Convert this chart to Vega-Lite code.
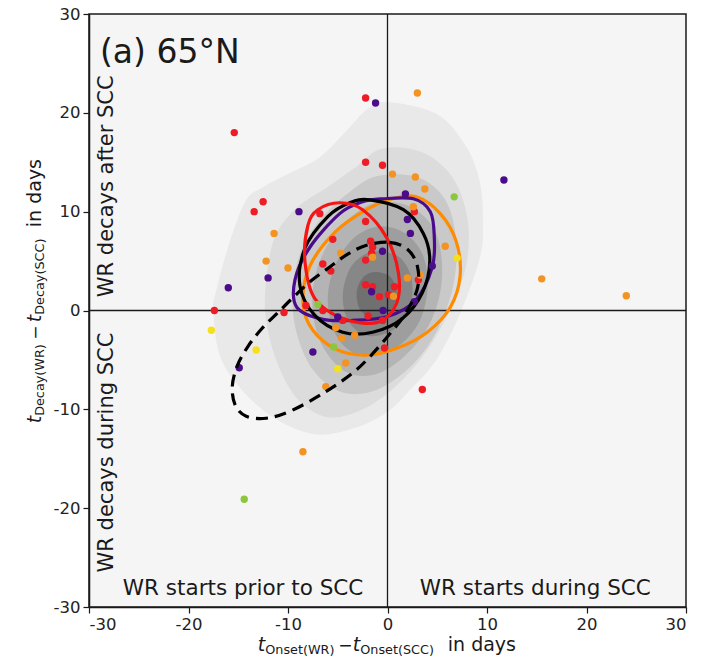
{
"$schema":"https://vega.github.io/schema/vega-lite/v6.json",
"width":597,"height":593,
"autosize":{"type":"none"},
"padding":{"left":89,"top":14,"right":18,"bottom":54},
"background":"white",
"config":{"view":{"stroke":"#1a1a1a","strokeWidth":1.5,"fill":"#f5f5f5"},"font":"DejaVu Sans",
 "axis":{"grid":false,"domainColor":"#1a1a1a","domainWidth":1.5,"tickColor":"#1a1a1a","tickSize":6,"tickWidth":1.2,"labelFont":"DejaVu Sans","labelFontSize":16.5,"labelColor":"#222222"}},
"datasets":{
 "contours":[
  {"level":1,"i":0,"x":-0.1,"y":21.1},{"level":1,"i":1,"x":4.9,"y":19.9},{"level":1,"i":2,"x":7.9,"y":16.6},{"level":1,"i":3,"x":9.3,"y":12.9},{"level":1,"i":4,"x":9.6,"y":8.8},{"level":1,"i":5,"x":9.3,"y":5.4},{"level":1,"i":6,"x":7.3,"y":-0.3},{"level":1,"i":7,"x":4.9,"y":-5.0},{"level":1,"i":8,"x":2.2,"y":-8.1},{"level":1,"i":9,"x":0.2,"y":-10.1},{"level":1,"i":10,"x":-3.0,"y":-11.8},{"level":1,"i":11,"x":-7.5,"y":-12.5},{"level":1,"i":12,"x":-12.5,"y":-10.1},{"level":1,"i":13,"x":-16.5,"y":-5.4},{"level":1,"i":14,"x":-17.5,"y":-0.3},{"level":1,"i":15,"x":-17.2,"y":2.1},{"level":1,"i":16,"x":-15.8,"y":7.1},{"level":1,"i":17,"x":-14.2,"y":11.2},{"level":1,"i":18,"x":-12.5,"y":12.5},{"level":1,"i":19,"x":-9.8,"y":13.9},{"level":1,"i":20,"x":-6.8,"y":15.5},{"level":1,"i":21,"x":-4.1,"y":18.2},{"level":1,"i":22,"x":-2.1,"y":20.3},
  {"level":2,"i":0,"x":-0.5,"y":16.4},{"level":2,"i":1,"x":3.5,"y":16.0},{"level":2,"i":2,"x":6.5,"y":13.5},{"level":2,"i":3,"x":8.0,"y":9.5},{"level":2,"i":4,"x":8.0,"y":5.0},{"level":2,"i":5,"x":6.5,"y":0.5},{"level":2,"i":6,"x":4.0,"y":-4.0},{"level":2,"i":7,"x":1.0,"y":-7.5},{"level":2,"i":8,"x":-2.5,"y":-10.0},{"level":2,"i":9,"x":-6.0,"y":-10.8},{"level":2,"i":10,"x":-9.0,"y":-9.0},{"level":2,"i":11,"x":-11.0,"y":-5.5},{"level":2,"i":12,"x":-12.2,"y":-1.0},{"level":2,"i":13,"x":-12.2,"y":3.0},{"level":2,"i":14,"x":-11.3,"y":7.5},{"level":2,"i":15,"x":-9.0,"y":10.5},{"level":2,"i":16,"x":-6.0,"y":12.5},{"level":2,"i":17,"x":-3.2,"y":14.5},
  {"level":3,"i":0,"x":-1.0,"y":13.6},{"level":3,"i":1,"x":3.0,"y":13.5},{"level":3,"i":2,"x":5.8,"y":11.2},{"level":3,"i":3,"x":6.9,"y":7.1},{"level":3,"i":4,"x":6.6,"y":2.5},{"level":3,"i":5,"x":5.0,"y":-2.0},{"level":3,"i":6,"x":2.5,"y":-5.5},{"level":3,"i":7,"x":-1.0,"y":-8.0},{"level":3,"i":8,"x":-4.5,"y":-8.3},{"level":3,"i":9,"x":-7.5,"y":-6.0},{"level":3,"i":10,"x":-9.2,"y":-2.0},{"level":3,"i":11,"x":-9.5,"y":2.0},{"level":3,"i":12,"x":-8.7,"y":6.0},{"level":3,"i":13,"x":-6.5,"y":9.5},{"level":3,"i":14,"x":-3.8,"y":12.0},
  {"level":4,"i":0,"x":-0.5,"y":11.0},{"level":4,"i":1,"x":2.5,"y":10.4},{"level":4,"i":2,"x":4.8,"y":8.0},{"level":4,"i":3,"x":5.5,"y":4.0},{"level":4,"i":4,"x":4.8,"y":0.0},{"level":4,"i":5,"x":2.8,"y":-3.5},{"level":4,"i":6,"x":-0.5,"y":-6.2},{"level":4,"i":7,"x":-3.8,"y":-6.4},{"level":4,"i":8,"x":-6.3,"y":-4.0},{"level":4,"i":9,"x":-7.5,"y":-0.3},{"level":4,"i":10,"x":-7.2,"y":3.8},{"level":4,"i":11,"x":-5.5,"y":7.5},{"level":4,"i":12,"x":-3.0,"y":10.0},
  {"level":5,"i":0,"x":-0.8,"y":8.5},{"level":5,"i":1,"x":1.8,"y":7.8},{"level":5,"i":2,"x":3.6,"y":5.5},{"level":5,"i":3,"x":4.0,"y":2.0},{"level":5,"i":4,"x":3.0,"y":-1.5},{"level":5,"i":5,"x":0.5,"y":-4.0},{"level":5,"i":6,"x":-2.6,"y":-4.6},{"level":5,"i":7,"x":-5.0,"y":-2.8},{"level":5,"i":8,"x":-6.0,"y":0.8},{"level":5,"i":9,"x":-5.3,"y":4.5},{"level":5,"i":10,"x":-3.3,"y":7.4},
  {"level":6,"i":0,"x":-1.0,"y":6.0},{"level":6,"i":1,"x":1.2,"y":5.4},{"level":6,"i":2,"x":2.4,"y":3.3},{"level":6,"i":3,"x":2.3,"y":0.5},{"level":6,"i":4,"x":0.8,"y":-1.8},{"level":6,"i":5,"x":-1.8,"y":-2.6},{"level":6,"i":6,"x":-3.8,"y":-1.3},{"level":6,"i":7,"x":-4.5,"y":1.3},{"level":6,"i":8,"x":-3.9,"y":4.0},{"level":6,"i":9,"x":-2.6,"y":5.5},
  {"level":7,"i":0,"x":-1.3,"y":3.9},{"level":7,"i":1,"x":0.3,"y":3.4},{"level":7,"i":2,"x":0.9,"y":1.8},{"level":7,"i":3,"x":0.3,"y":0.0},{"level":7,"i":4,"x":-1.3,"y":-0.8},{"level":7,"i":5,"x":-2.7,"y":0.0},{"level":7,"i":6,"x":-3.1,"y":1.8},{"level":7,"i":7,"x":-2.5,"y":3.3}
 ],
 "ellipses":[
  {"e":"orange","i":0,"x":-2.1,"y":10.2},{"e":"orange","i":1,"x":0.5,"y":11.3},{"e":"orange","i":2,"x":2.9,"y":11.5},{"e":"orange","i":3,"x":5.3,"y":9.8},{"e":"orange","i":4,"x":6.9,"y":7.0},{"e":"orange","i":5,"x":7.3,"y":3.5},{"e":"orange","i":6,"x":6.3,"y":0.3},{"e":"orange","i":7,"x":4.0,"y":-2.2},{"e":"orange","i":8,"x":1.0,"y":-3.8},{"e":"orange","i":9,"x":-2.0,"y":-4.5},{"e":"orange","i":10,"x":-5.0,"y":-4.0},{"e":"orange","i":11,"x":-7.5,"y":-2.0},{"e":"orange","i":12,"x":-8.5,"y":0.8},{"e":"orange","i":13,"x":-7.8,"y":4.5},{"e":"orange","i":14,"x":-5.2,"y":8.0},
  {"e":"purple","i":0,"x":-0.5,"y":11.3},{"e":"purple","i":1,"x":2.6,"y":11.3},{"e":"purple","i":2,"x":4.3,"y":10.0},{"e":"purple","i":3,"x":4.7,"y":7.5},{"e":"purple","i":4,"x":4.5,"y":4.4},{"e":"purple","i":5,"x":2.8,"y":1.0},{"e":"purple","i":6,"x":0.0,"y":-0.6},{"e":"purple","i":7,"x":-3.5,"y":-1.0},{"e":"purple","i":8,"x":-6.5,"y":-0.9},{"e":"purple","i":9,"x":-9.1,"y":0.3},{"e":"purple","i":10,"x":-9.3,"y":3.1},{"e":"purple","i":11,"x":-7.8,"y":6.4},{"e":"purple","i":12,"x":-4.8,"y":9.8},{"e":"purple","i":13,"x":-2.5,"y":11.0},
  {"e":"black","i":0,"x":-1.8,"y":11.2},{"e":"black","i":1,"x":1.6,"y":10.2},{"e":"black","i":2,"x":3.6,"y":7.8},{"e":"black","i":3,"x":4.25,"y":5.0},{"e":"black","i":4,"x":3.5,"y":1.8},{"e":"black","i":5,"x":1.5,"y":-0.8},{"e":"black","i":6,"x":-1.5,"y":-2.2},{"e":"black","i":7,"x":-4.5,"y":-2.2},{"e":"black","i":8,"x":-7.3,"y":-0.5},{"e":"black","i":9,"x":-8.8,"y":2.5},{"e":"black","i":10,"x":-8.3,"y":6.3},{"e":"black","i":11,"x":-6.0,"y":9.5},{"e":"black","i":12,"x":-3.8,"y":10.9},
  {"e":"red","i":0,"x":-4.8,"y":10.9},{"e":"red","i":1,"x":-2.5,"y":10.2},{"e":"red","i":2,"x":-0.1,"y":7.4},{"e":"red","i":3,"x":1.1,"y":3.8},{"e":"red","i":4,"x":0.9,"y":0.7},{"e":"red","i":5,"x":-1.0,"y":-1.2},{"e":"red","i":6,"x":-4.5,"y":-0.8},{"e":"red","i":7,"x":-7.3,"y":1.2},{"e":"red","i":8,"x":-8.3,"y":5.0},{"e":"red","i":9,"x":-8.0,"y":8.6},{"e":"red","i":10,"x":-7.0,"y":10.2},
  {"e":"dashed","i":0,"x":-2.1,"y":6.6},{"e":"dashed","i":1,"x":0.2,"y":6.9},{"e":"dashed","i":2,"x":2.0,"y":6.2},{"e":"dashed","i":3,"x":3.0,"y":4.5},{"e":"dashed","i":4,"x":3.0,"y":2.2},{"e":"dashed","i":5,"x":1.8,"y":-0.3},{"e":"dashed","i":6,"x":0.2,"y":-2.4},{"e":"dashed","i":7,"x":-1.8,"y":-4.7},{"e":"dashed","i":8,"x":-3.6,"y":-6.4},{"e":"dashed","i":9,"x":-6.5,"y":-8.4},{"e":"dashed","i":10,"x":-9.8,"y":-10.2},{"e":"dashed","i":11,"x":-12.2,"y":-10.9},{"e":"dashed","i":12,"x":-14.2,"y":-10.7},{"e":"dashed","i":13,"x":-15.3,"y":-9.6},{"e":"dashed","i":14,"x":-15.6,"y":-7.7},{"e":"dashed","i":15,"x":-15.1,"y":-5.6},{"e":"dashed","i":16,"x":-14.0,"y":-3.6},{"e":"dashed","i":17,"x":-12.6,"y":-1.8},{"e":"dashed","i":18,"x":-11.1,"y":-0.3},{"e":"dashed","i":19,"x":-9.5,"y":1.3},{"e":"dashed","i":20,"x":-7.8,"y":2.9},{"e":"dashed","i":21,"x":-5.8,"y":4.4},{"e":"dashed","i":22,"x":-4.0,"y":5.7}
 ],
 "pts":[
  {"g":"c1","x":-15.4,"y":18.0},{"g":"c1","x":-2.2,"y":21.5},{"g":"c1","x":-13.4,"y":10.0},{"g":"c1","x":-12.5,"y":11.0},{"g":"c1","x":-6.8,"y":9.8},{"g":"c1","x":-2.2,"y":15.0},{"g":"c1","x":-0.5,"y":14.7},{"g":"c1","x":-5.5,"y":7.2},{"g":"c1","x":-6.5,"y":4.7},{"g":"c1","x":-5.7,"y":4.0},{"g":"c1","x":-2.2,"y":9.0},{"g":"c1","x":-1.7,"y":7.0},{"g":"c1","x":-1.5,"y":6.4},{"g":"c1","x":-1.6,"y":5.8},{"g":"c1","x":-2.2,"y":5.1},{"g":"c1","x":2.7,"y":10.0},{"g":"c1","x":3.1,"y":3.1},{"g":"c1","x":-2.2,"y":2.6},{"g":"c1","x":-1.5,"y":2.4},{"g":"c1","x":-0.8,"y":1.4},{"g":"c1","x":0.1,"y":1.6},{"g":"c1","x":0.7,"y":2.4},{"g":"c1","x":-17.4,"y":0.0},{"g":"c1","x":-10.4,"y":-0.2},{"g":"c1","x":-8.2,"y":0.5},{"g":"c1","x":-6.5,"y":0.0},{"g":"c1","x":-4.5,"y":-1.0},{"g":"c1","x":-1.95,"y":-0.55},{"g":"c1","x":-0.5,"y":-1.0},{"g":"c1","x":-0.3,"y":-3.8},{"g":"c1","x":3.5,"y":-8.0},
  {"g":"c2","x":-1.2,"y":21.0},{"g":"c2","x":-8.9,"y":10.0},{"g":"c2","x":-12.0,"y":3.3},{"g":"c2","x":-16.0,"y":2.3},{"g":"c2","x":11.7,"y":13.2},{"g":"c2","x":1.8,"y":11.8},{"g":"c2","x":2.0,"y":9.2},{"g":"c2","x":2.3,"y":7.8},{"g":"c2","x":-0.5,"y":6.0},{"g":"c2","x":4.5,"y":4.5},{"g":"c2","x":-1.6,"y":1.9},{"g":"c2","x":2.7,"y":0.9},{"g":"c2","x":-5.0,"y":-0.65},{"g":"c2","x":-0.45,"y":0.0},{"g":"c2","x":-7.5,"y":-4.2},{"g":"c2","x":-14.9,"y":-5.8},
  {"g":"c3","x":3.0,"y":22.0},{"g":"c3","x":0.5,"y":13.8},{"g":"c3","x":2.8,"y":13.5},{"g":"c3","x":3.75,"y":12.3},{"g":"c3","x":2.6,"y":10.5},{"g":"c3","x":-11.4,"y":7.8},{"g":"c3","x":-12.2,"y":5.0},{"g":"c3","x":-10.0,"y":4.3},{"g":"c3","x":-4.7,"y":5.8},{"g":"c3","x":-1.5,"y":5.4},{"g":"c3","x":5.8,"y":6.5},{"g":"c3","x":2.0,"y":3.3},{"g":"c3","x":3.3,"y":3.6},{"g":"c3","x":0.6,"y":1.45},{"g":"c3","x":15.5,"y":3.2},{"g":"c3","x":24.0,"y":1.5},{"g":"c3","x":-5.2,"y":-1.75},{"g":"c3","x":-4.6,"y":-2.8},{"g":"c3","x":-3.3,"y":-2.5},{"g":"c3","x":-4.2,"y":-5.3},{"g":"c3","x":-6.2,"y":-7.7},{"g":"c3","x":-8.5,"y":-14.3},
  {"g":"c4","x":7.0,"y":5.3},{"g":"c4","x":-17.7,"y":-2.0},{"g":"c4","x":-13.2,"y":-4.0},{"g":"c4","x":-5.0,"y":-5.9},
  {"g":"c5","x":6.7,"y":11.5},{"g":"c5","x":-7.0,"y":0.6},{"g":"c5","x":-5.4,"y":-3.7},{"g":"c5","x":-14.4,"y":-19.1}
 ],
 "zeros":[{"x":-30,"x2":30,"y":0,"y2":0},{"x":0,"x2":0,"y":-30,"y2":30}]
},
"encoding":{
 "x":{"field":"x","type":"quantitative","scale":{"domain":[-30,30],"nice":false,"zero":false},"axis":{"values":[-30,-20,-10,0,10,20,30],"labelExpr":"'' + datum.value","labelPadding":3,"title":null}},
 "y":{"field":"y","type":"quantitative","scale":{"domain":[-30,30],"nice":false,"zero":false},"axis":{"values":[-30,-20,-10,0,10,20,30],"labelExpr":"'' + datum.value","labelPadding":3,"title":null}}
},
"layer":[
 {"data":{"name":"contours"},"transform":[{"filter":"datum.level == 1"}],"mark":{"type":"line","interpolate":"cardinal-closed","fill":"#e9e9e9","strokeWidth":0},"encoding":{"order":{"field":"i","type":"quantitative"}}},
 {"data":{"name":"contours"},"transform":[{"filter":"datum.level == 2"}],"mark":{"type":"line","interpolate":"cardinal-closed","fill":"#dcdcdc","strokeWidth":0},"encoding":{"order":{"field":"i","type":"quantitative"}}},
 {"data":{"name":"contours"},"transform":[{"filter":"datum.level == 3"}],"mark":{"type":"line","interpolate":"cardinal-closed","fill":"#c9c9c9","strokeWidth":0},"encoding":{"order":{"field":"i","type":"quantitative"}}},
 {"data":{"name":"contours"},"transform":[{"filter":"datum.level == 4"}],"mark":{"type":"line","interpolate":"cardinal-closed","fill":"#b4b4b4","strokeWidth":0},"encoding":{"order":{"field":"i","type":"quantitative"}}},
 {"data":{"name":"contours"},"transform":[{"filter":"datum.level == 5"}],"mark":{"type":"line","interpolate":"cardinal-closed","fill":"#9e9e9e","strokeWidth":0},"encoding":{"order":{"field":"i","type":"quantitative"}}},
 {"data":{"name":"contours"},"transform":[{"filter":"datum.level == 6"}],"mark":{"type":"line","interpolate":"cardinal-closed","fill":"#878787","strokeWidth":0},"encoding":{"order":{"field":"i","type":"quantitative"}}},
 {"data":{"name":"contours"},"transform":[{"filter":"datum.level == 7"}],"mark":{"type":"line","interpolate":"cardinal-closed","fill":"#707070","strokeWidth":0},"encoding":{"order":{"field":"i","type":"quantitative"}}},
 {"data":{"name":"zeros"},"mark":{"type":"rule","color":"#1a1a1a","strokeWidth":1.3},"encoding":{"x2":{"field":"x2"},"y2":{"field":"y2"}}},
 {"data":{"name":"ellipses"},"transform":[{"filter":"datum.e == 'orange'"}],"mark":{"type":"line","interpolate":"cardinal-closed","color":"#ff8c00","strokeWidth":3.2},"encoding":{"order":{"field":"i","type":"quantitative"}}},
 {"data":{"name":"ellipses"},"transform":[{"filter":"datum.e == 'purple'"}],"mark":{"type":"line","interpolate":"cardinal-closed","color":"#4a0c8c","strokeWidth":3.2},"encoding":{"order":{"field":"i","type":"quantitative"}}},
 {"data":{"name":"ellipses"},"transform":[{"filter":"datum.e == 'black'"}],"mark":{"type":"line","interpolate":"cardinal-closed","color":"#000000","strokeWidth":3.2},"encoding":{"order":{"field":"i","type":"quantitative"}}},
 {"data":{"name":"ellipses"},"transform":[{"filter":"datum.e == 'red'"}],"mark":{"type":"line","interpolate":"cardinal-closed","color":"#f81414","strokeWidth":3.2},"encoding":{"order":{"field":"i","type":"quantitative"}}},
 {"data":{"name":"pts"},"mark":{"type":"circle","size":55,"opacity":1},"encoding":{"color":{"field":"g","type":"nominal","legend":null,"scale":{"domain":["c1","c2","c3","c4","c5"],"range":["#ee1c24","#4b0c8a","#f39322","#f4e01c","#8cc63e"]}}}},
 {"data":{"name":"ellipses"},"transform":[{"filter":"datum.e == 'dashed'"}],"mark":{"type":"line","interpolate":"cardinal-closed","color":"#000000","strokeWidth":3.2,"strokeDash":[12,7]},"encoding":{"order":{"field":"i","type":"quantitative"}}},
 {"data":{"values":[{"x":-28.9,"y":25.0,"label":"(a) 65°N"}]},"mark":{"type":"text","fontSize":33,"align":"left","baseline":"alphabetic","color":"#1a1a1a"},"encoding":{"text":{"field":"label"}}},
 {"data":{"values":[{"x":-27.6,"y":1.35,"label":"WR decays after SCC"},{"x":-27.6,"y":-26.5,"label":"WR decays during SCC"}]},"mark":{"type":"text","fontSize":21,"angle":270,"align":"left","baseline":"alphabetic","color":"#1a1a1a"},"encoding":{"text":{"field":"label"}}},
 {"data":{"values":[{"x":-26.6,"y":-28.82,"label":"WR starts prior to SCC"},{"x":3.25,"y":-28.82,"label":"WR starts during SCC"}]},"mark":{"type":"text","fontSize":21.5,"align":"left","baseline":"alphabetic","color":"#1a1a1a"},"encoding":{"text":{"field":"label"}}},
 {"data":{"values":[{"x":-13.04,"y":-34.48,"label":"t"},{"x":-3.49,"y":-34.48,"label":"t"}]},"mark":{"type":"text","fontSize":19,"fontStyle":"italic","align":"left","baseline":"alphabetic","color":"#1a1a1a"},"encoding":{"text":{"field":"label"}}},
 {"data":{"values":[{"x":-12.29,"y":-34.79,"label":"Onset(WR)"},{"x":-2.74,"y":-34.79,"label":"Onset(SCC)"}]},"mark":{"type":"text","fontSize":12.8,"align":"left","baseline":"alphabetic","color":"#1a1a1a"},"encoding":{"text":{"field":"label"}}},
 {"data":{"values":[{"x":-4.24,"y":-34.48,"label":"−"}]},"mark":{"type":"text","fontSize":17,"align":"center","baseline":"alphabetic","color":"#1a1a1a"},"encoding":{"text":{"field":"label"}}},
 {"data":{"values":[{"x":6.06,"y":-34.48,"label":"in days"}]},"mark":{"type":"text","fontSize":19,"align":"left","baseline":"alphabetic","color":"#1a1a1a"},"encoding":{"text":{"field":"label"}}},
 {"data":{"values":[{"x":-34.85,"y":-11.41,"label":"t"},{"x":-34.85,"y":-1.18,"label":"t"}]},"mark":{"type":"text","fontSize":19,"fontStyle":"italic","angle":270,"align":"left","baseline":"alphabetic","color":"#1a1a1a"},"encoding":{"text":{"field":"label"}}},
 {"data":{"values":[{"x":-34.54,"y":-10.66,"label":"Decay(WR)"},{"x":-34.54,"y":-0.43,"label":"Decay(SCC)"}]},"mark":{"type":"text","fontSize":12.8,"angle":270,"align":"left","baseline":"alphabetic","color":"#1a1a1a"},"encoding":{"text":{"field":"label"}}},
 {"data":{"values":[{"x":-34.85,"y":-2.25,"label":"−"}]},"mark":{"type":"text","fontSize":17,"angle":270,"align":"center","baseline":"alphabetic","color":"#1a1a1a"},"encoding":{"text":{"field":"label"}}},
 {"data":{"values":[{"x":-34.85,"y":8.43,"label":"in days"}]},"mark":{"type":"text","fontSize":19,"angle":270,"align":"left","baseline":"alphabetic","color":"#1a1a1a"},"encoding":{"text":{"field":"label"}}}
]
}
